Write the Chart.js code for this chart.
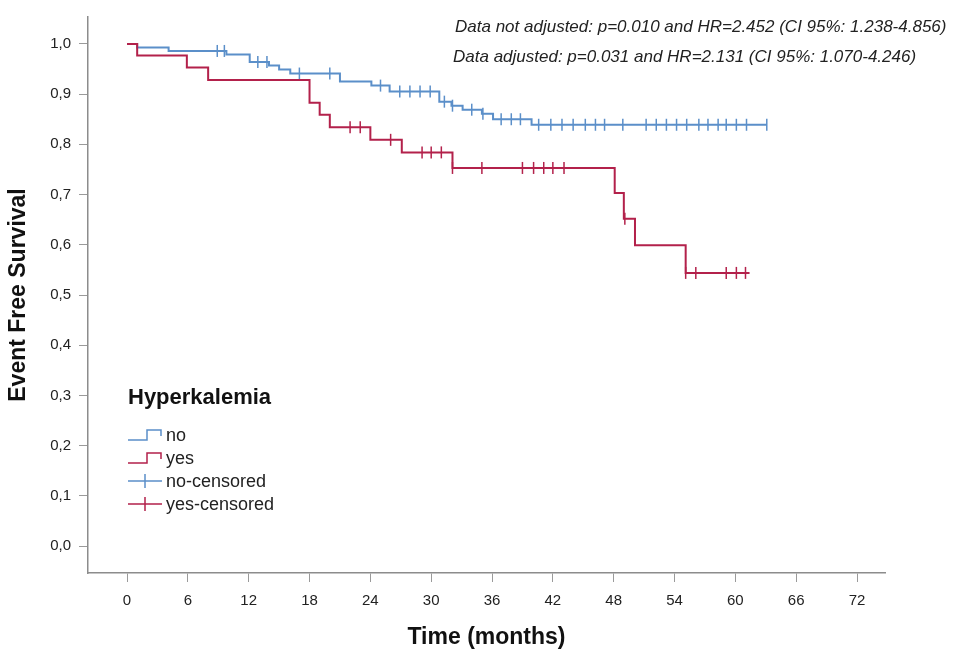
<!DOCTYPE html>
<html>
<head>
<meta charset="utf-8">
<script src="https://cdn.jsdelivr.net/npm/chart.js@4.4.1/dist/chart.umd.min.js"></script>
<style>
  html, body { margin: 0; padding: 0; background: #fff; }
  #wrap { width: 953px; height: 651px; }
</style>
</head>
<body>
<div id="wrap"><canvas id="kmChart" width="953" height="651"></canvas></div>
<script>
// Kaplan-Meier data (time in months, survival after each event)
const noTimes = [0, 1.0, 4.1, 9.8, 12.1, 14.0, 15.0, 16.1, 21.0, 24.1, 25.9, 30.8, 32.0, 33.1, 35.0, 36.1, 39.9];
const noSurv = [1.0, 0.993, 0.986, 0.979, 0.964, 0.957, 0.949, 0.941, 0.925, 0.917, 0.905, 0.885, 0.877, 0.869, 0.861, 0.850, 0.839];
const noEnd = 63.1;
const noCensored = [8.9, 9.6, 12.9, 13.8, 17.0, 20.0, 25.0, 26.9, 27.9, 28.9, 29.9, 31.3, 32.1, 34.0, 35.1,
  36.9, 37.9, 38.8, 40.6, 41.8, 42.9, 44.0, 45.2, 46.2, 47.1, 48.9, 51.2, 52.2, 53.2, 54.2, 55.2,
  56.4, 57.3, 58.3, 59.1, 60.1, 61.1, 63.1];

const yesTimes = [0, 1.0, 5.9, 8.0, 18.0, 19.0, 20.0, 24.0, 27.1, 32.1, 48.1, 49.0, 50.1, 55.1];
const yesSurv = [1.0, 0.977, 0.953, 0.928, 0.883, 0.859, 0.834, 0.809, 0.784, 0.753, 0.703, 0.652, 0.599, 0.544];
const yesEnd = 61.4;
const yesCensored = [22.0, 23.0, 26.0, 29.1, 30.0, 31.0, 32.1, 35.0, 39.0, 40.1, 41.1, 42.0, 43.1,
  49.1, 55.1, 56.1, 59.1, 60.1, 61.0];

const xTicks = [0, 6, 12, 18, 24, 30, 36, 42, 48, 54, 60, 66, 72];
const yTicks = [0, 0.1, 0.2, 0.3, 0.4, 0.5, 0.6, 0.7, 0.8, 0.9, 1.0];

const groupTitle = "Hyperkalemia";
const legendLabels = ["no", "yes", "no-censored", "yes-censored"];
const noteLines = [
  "Data not adjusted: p=0.010 and HR=2.452 (CI 95%: 1.238-4.856)",
  "Data adjusted: p=0.031 and HR=2.131 (CI 95%: 1.070-4.246)",
];

const BLUE = "#5b8fc9";
const RED = "#b3214b";
const FONT = "'Liberation Sans', Arial, sans-serif";

// step curve points, extended to the last follow-up time
function curve(times, surv, end) {
  const pts = times.map((t, i) => ({ x: t, y: surv[i] }));
  pts.push({ x: end, y: surv[surv.length - 1] });
  return pts;
}

// survival value of the step curve at time t (for the censor marks)
function survAt(times, surv, t) {
  let s = surv[0];
  for (let i = 0; i < times.length; i++) {
    if (times[i] <= t) s = surv[i];
  }
  return s;
}

function censorPoints(list, times, surv) {
  return list.map((t) => ({ x: t, y: survAt(times, surv, t) }));
}

// legend box and the two annotation lines
const extrasPlugin = {
  id: "extras",
  afterDraw(chart) {
    const ctx = chart.ctx;
    ctx.save();

    ctx.fillStyle = "#222";
    ctx.textBaseline = "middle";
    ctx.textAlign = "left";
    ctx.font = "italic 17px " + FONT;
    ctx.fillText(noteLines[0], 455, 27);
    ctx.fillText(noteLines[1], 453, 57);

    ctx.fillStyle = "#111";
    ctx.font = "bold 22px " + FONT;
    ctx.fillText(groupTitle, 128, 398);

    const rows = [435, 458, 481, 504];
    const colors = [BLUE, RED, BLUE, RED];
    ctx.lineWidth = 1.5;
    rows.forEach((cy, i) => {
      ctx.strokeStyle = colors[i];
      ctx.beginPath();
      if (i < 2) {
        ctx.moveTo(128, cy + 5);
        ctx.lineTo(147, cy + 5);
        ctx.lineTo(147, cy - 5);
        ctx.lineTo(161, cy - 5);
        ctx.lineTo(161, cy + 1);
      } else {
        ctx.moveTo(128, cy);
        ctx.lineTo(162, cy);
        ctx.moveTo(145, cy - 7);
        ctx.lineTo(145, cy + 7);
      }
      ctx.stroke();
      ctx.fillStyle = "#222";
      ctx.font = "18px " + FONT;
      ctx.fillText(legendLabels[i], 166, cy + 1);
    });
    ctx.restore();
  },
};

const ctx = document.getElementById("kmChart").getContext("2d");
new Chart(ctx, {
  type: "scatter",
  data: {
    datasets: [
      {
        type: "line",
        label: "yes",
        data: curve(yesTimes, yesSurv, yesEnd),
        borderColor: RED,
        borderWidth: 2,
        stepped: true,
        pointRadius: 0,
        fill: false,
      },
      {
        type: "line",
        label: "no",
        data: curve(noTimes, noSurv, noEnd),
        borderColor: BLUE,
        borderWidth: 2,
        stepped: true,
        pointRadius: 0,
        fill: false,
      },
      {
        label: "yes-censored",
        data: censorPoints(yesCensored, yesTimes, yesSurv),
        pointStyle: "line",
        rotation: 90,
        pointRadius: 6,
        borderColor: RED,
        borderWidth: 1.5,
      },
      {
        label: "no-censored",
        data: censorPoints(noCensored, noTimes, noSurv),
        pointStyle: "line",
        rotation: 90,
        pointRadius: 6,
        borderColor: BLUE,
        borderWidth: 1.5,
      },
    ],
  },
  options: {
    responsive: false,
    animation: false,
    devicePixelRatio: 1,
    layout: { padding: { top: 15, right: 68, left: 0, bottom: 0 } },
    plugins: {
      legend: { display: false },
      tooltip: { enabled: false },
    },
    scales: {
      x: {
        type: "linear",
        min: -3.85,
        max: 74.76,
        afterBuildTicks: (s) => {
          s.ticks = xTicks.map((v) => ({ value: v }));
        },
        afterFit: (s) => {
          s.height = 78;
        },
        ticks: {
          font: { family: FONT, size: 15 },
          color: "#222",
          padding: 10,
          maxRotation: 0,
          callback: (v) => String(v),
        },
        grid: { drawOnChartArea: false, tickLength: 9, color: "#9a9a9a" },
        border: { color: "#8c8c8c", width: 1.5 },
        title: {
          display: true,
          text: "Time (months)",
          color: "#111",
          font: { family: FONT, size: 23, weight: "bold" },
          padding: { top: 0, bottom: 0 },
        },
      },
      y: {
        type: "linear",
        min: -0.0536,
        max: 1.0536,
        afterBuildTicks: (s) => {
          s.ticks = yTicks.map((v) => ({ value: v }));
        },
        afterFit: (s) => {
          s.width = 88;
        },
        ticks: {
          font: { family: FONT, size: 15 },
          color: "#222",
          padding: 8,
          callback: (v) => v.toFixed(1).replace(".", ","),
        },
        grid: { drawOnChartArea: false, tickLength: 9, color: "#9a9a9a" },
        border: { color: "#8c8c8c", width: 1.5 },
        title: {
          display: true,
          text: "Event Free Survival",
          color: "#111",
          font: { family: FONT, size: 23, weight: "bold" },
          padding: { top: 5, bottom: 0 },
        },
      },
    },
  },
  plugins: [extrasPlugin],
});
</script>
</body>
</html>
